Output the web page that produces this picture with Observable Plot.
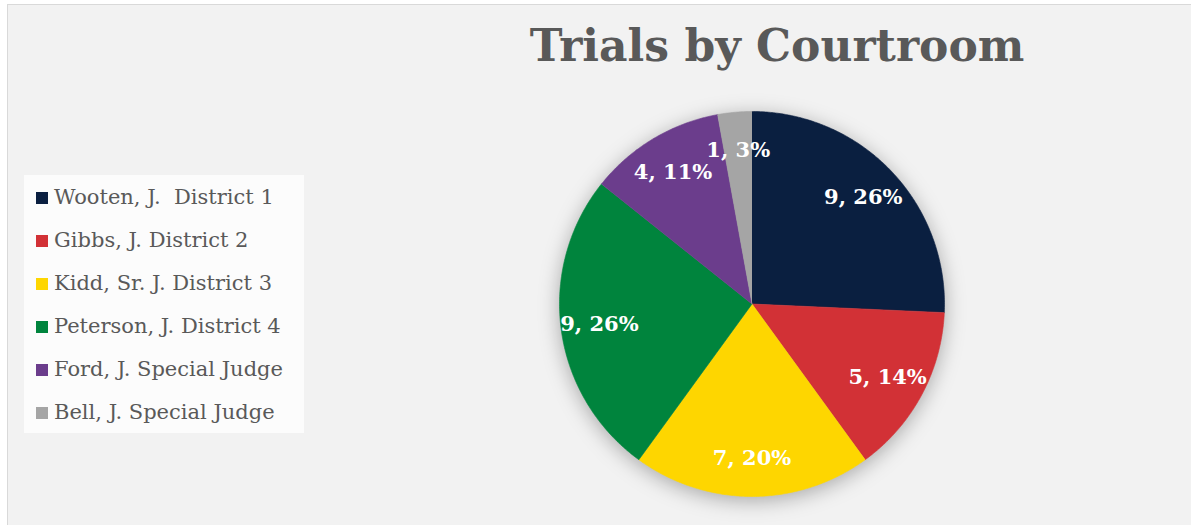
<!DOCTYPE html>
<html><head><meta charset="utf-8">
<script src="https://cdn.jsdelivr.net/npm/d3@7"></script>
<script src="https://cdn.jsdelivr.net/npm/@observablehq/plot@0.6"></script>
<style>
html,body{margin:0;padding:0;background:#fff;}
#wrap{position:relative;width:1191px;height:525px;overflow:hidden;background:#fff;}
#box{position:absolute;left:7px;top:4px;width:1220px;height:560px;background:#f2f2f2;border:1px solid #d9d9d9;box-sizing:border-box;}
#title{position:absolute;left:427px;width:700px;top:16px;text-align:center;font-family:"DejaVu Serif",serif;font-weight:bold;font-size:44px;color:#595959;line-height:60px;white-space:nowrap;}
#legend{position:absolute;left:24px;top:175px;width:280px;height:258px;background:#fcfcfc;font-family:"DejaVu Serif",serif;font-size:21px;color:#595959;}
.row{position:absolute;left:12px;height:24px;line-height:24px;white-space:pre;}
.sw{display:inline-block;width:12px;height:12px;vertical-align:middle;margin-right:6px;position:relative;top:-1px;}
#chart{position:absolute;left:0;top:0;}
</style></head>
<body>
<div id="wrap"><div id="box"></div><div id="title">Trials by Courtroom</div><div id="legend"></div><div id="chart"></div></div>
<script>
const categories = ["Wooten, J.  District 1","Gibbs, J. District 2","Kidd, Sr. J. District 3","Peterson, J. District 4","Ford, J. Special Judge","Bell, J. Special Judge"];
const trials = [9, 5, 7, 9, 4, 1];
const colors = ["#0a1f40","#d23136","#fed600","#00843d","#6b3d8c","#a5a5a5"];

const total = d3.sum(trials);
const pie = d3.pie().sort(null).value(d => d)(trials);

// slice outline points (angle clockwise from 12 o'clock)
const pts = [];
pie.forEach((s, i) => {
  const name = categories[i];
  pts.push({name, x: 0, y: 0});
  const n = Math.max(2, Math.ceil((s.endAngle - s.startAngle) / (Math.PI / 360)));
  for (let k = 0; k <= n; k++) {
    const a = s.startAngle + (s.endAngle - s.startAngle) * k / n;
    pts.push({name, x: Math.sin(a), y: Math.cos(a)});
  }
});
const labels = pie.map((s, i) => {
  const a = (s.startAngle + s.endAngle) / 2;
  const r = 0.8;
  return {x: r * Math.sin(a), y: r * Math.cos(a), text: `${trials[i]}, ${Math.round(trials[i] / total * 100)}%`};
});

const chart = Plot.plot({
  width: 1191, height: 525,
  marginLeft: 559, marginRight: 247, marginTop: 111, marginBottom: 29,
  x: {domain: [-1, 1], axis: null},
  y: {domain: [-1, 1], axis: null},
  color: {domain: categories, range: colors},
  style: {background: "transparent", overflow: "visible"},
  marks: [
    Plot.line(pts, {x: "x", y: "y", z: "name", fill: "name", stroke: "name", strokeWidth: 0.6, curve: "linear"}),
    Plot.text(labels, {x: "x", y: "y", text: "text", fill: "white", fontSize: 21, fontWeight: "bold", fontFamily: "DejaVu Serif"})
  ]
});
const lineG = chart.querySelector('g[aria-label="line"]');
if (lineG) lineG.style.filter = "drop-shadow(0px 4px 10px rgba(0,0,0,0.3))";
document.getElementById("chart").appendChild(chart);

const leg = document.getElementById("legend");
categories.forEach((c, i) => {
  const row = document.createElement("div");
  row.className = "row";
  row.style.top = (10 + i * 43) + "px";
  const sw = document.createElement("span");
  sw.className = "sw";
  sw.style.background = colors[i];
  row.appendChild(sw);
  row.appendChild(document.createTextNode(c));
  leg.appendChild(row);
});
</script>
</body></html>
